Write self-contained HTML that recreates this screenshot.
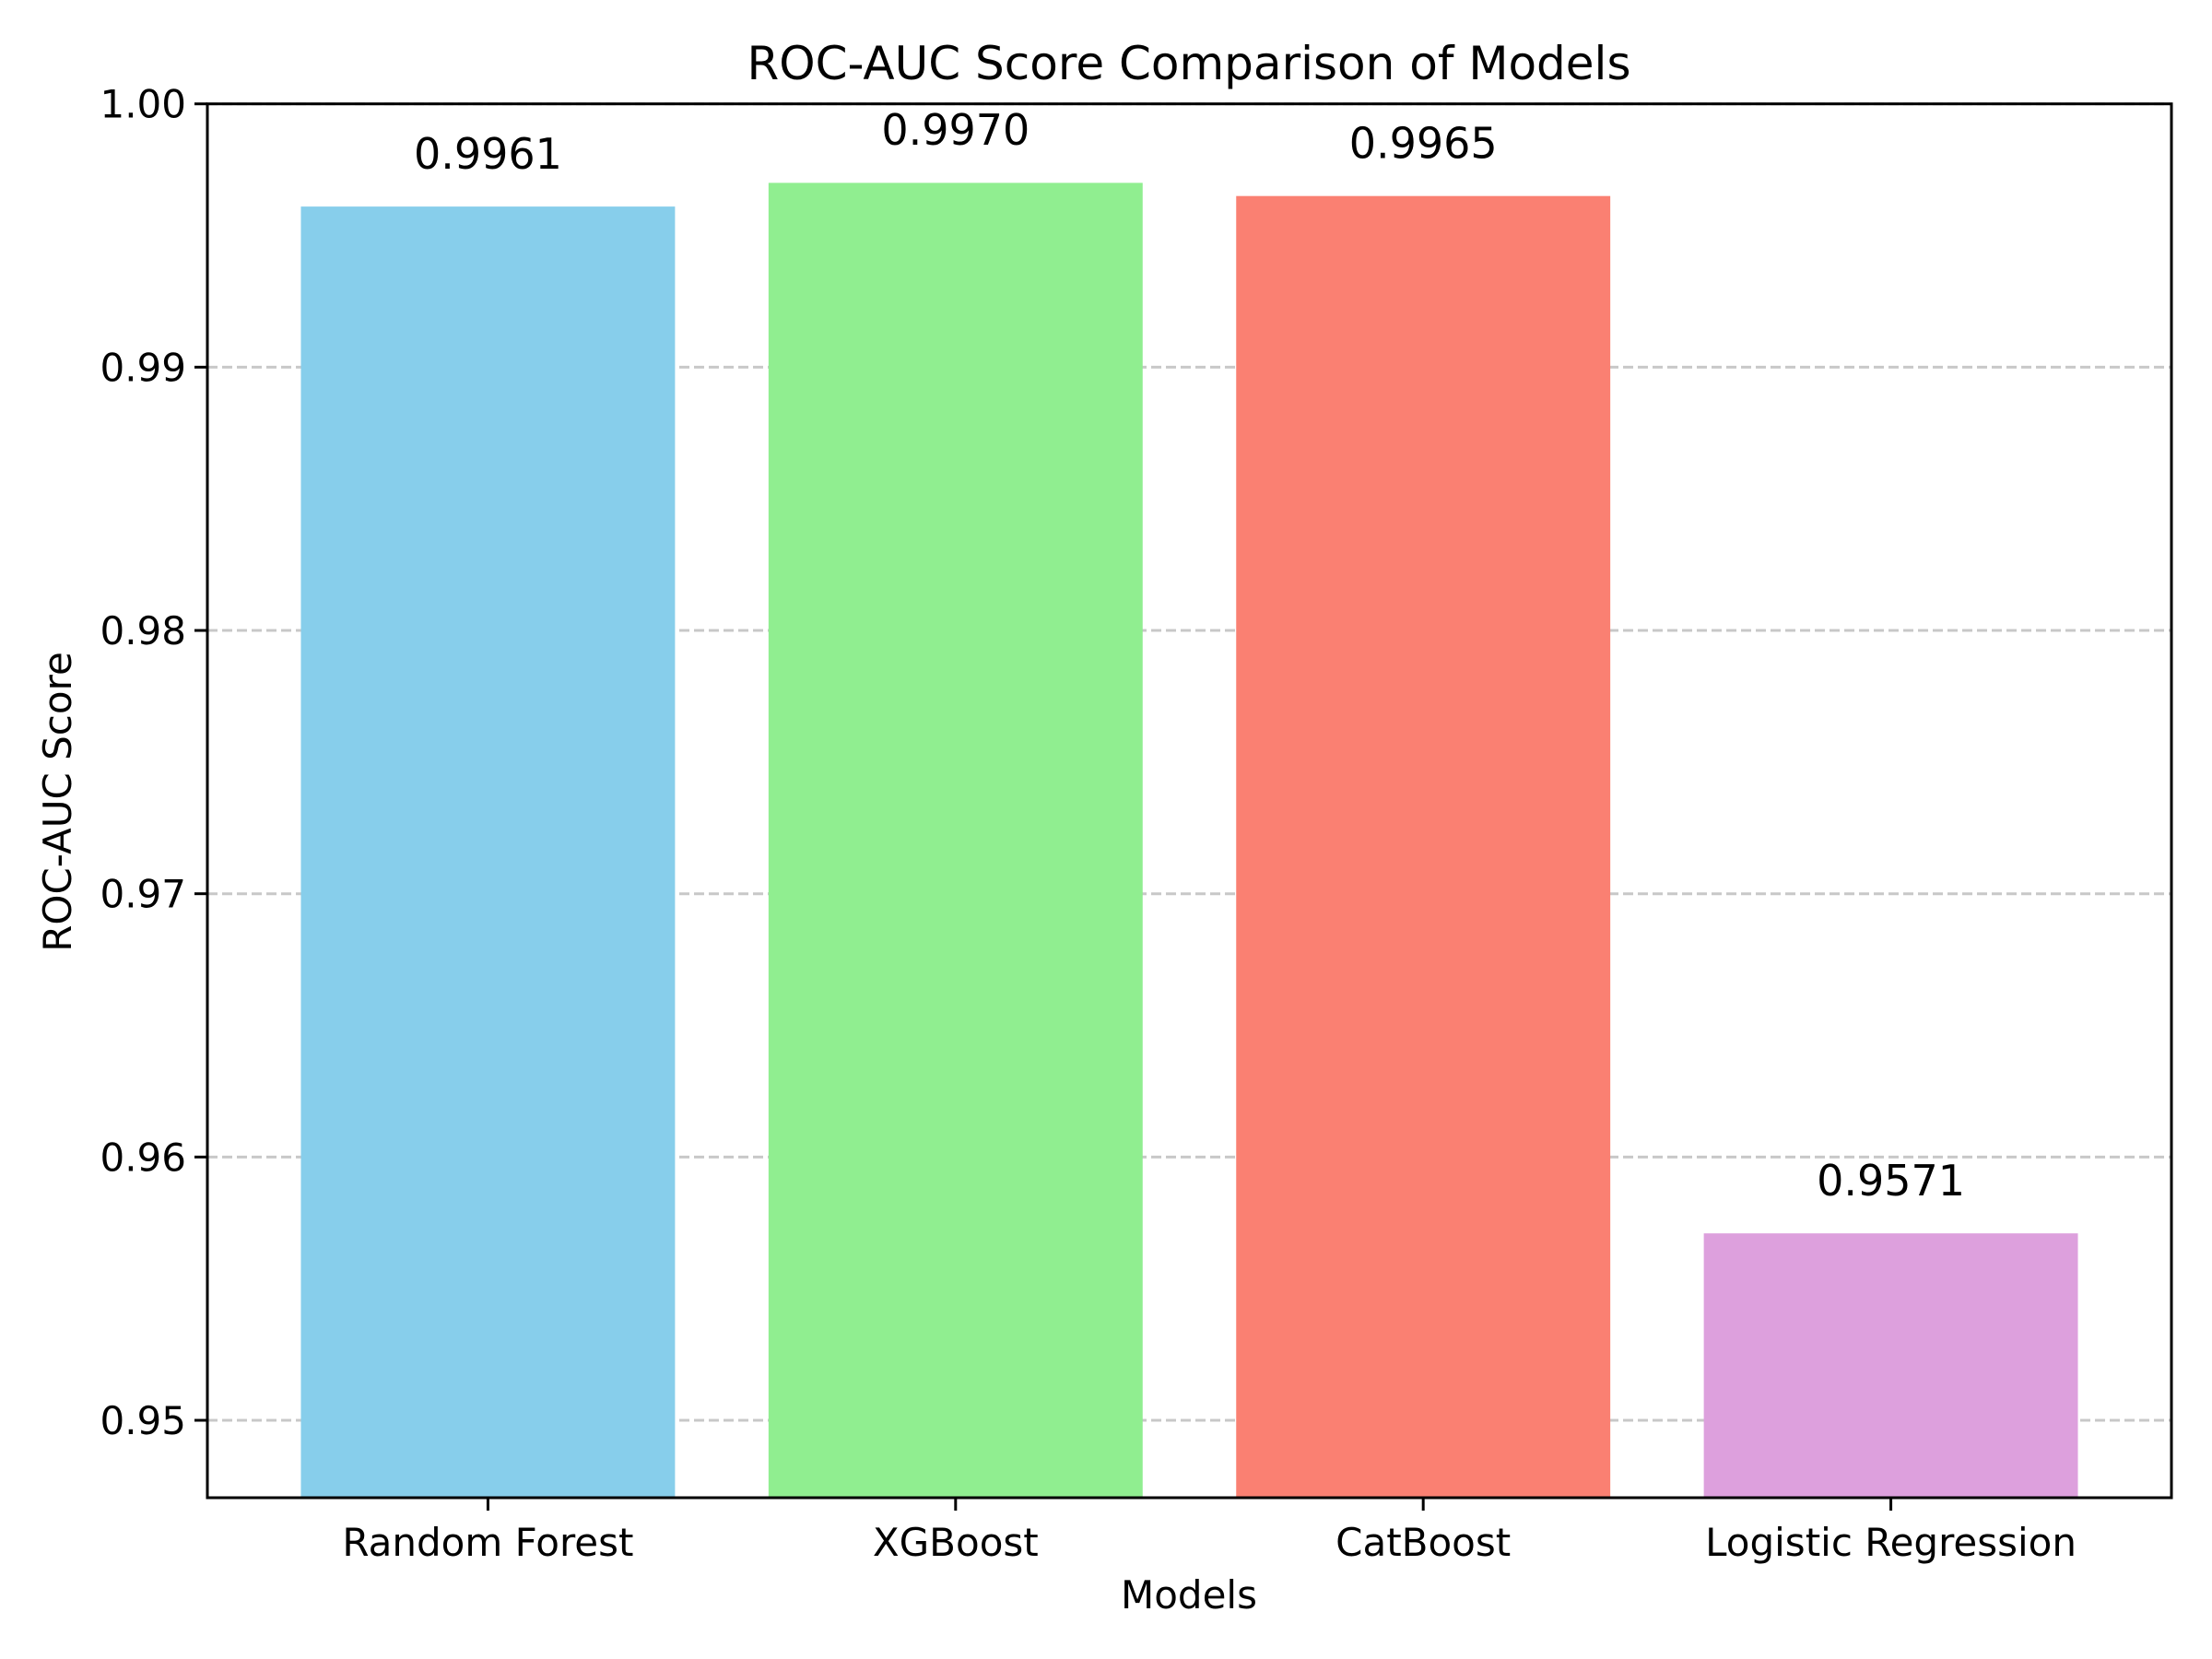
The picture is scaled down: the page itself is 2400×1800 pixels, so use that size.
<!DOCTYPE html>
<html><head><meta charset="utf-8"><style>
html,body{margin:0;padding:0;background:#fff;}
svg{display:block;font-family:"DejaVu Sans","Liberation Sans",sans-serif;}
</style></head><body>
<svg id="chart" width="2400" height="1800" viewBox="0 0 2400 1800" xmlns="http://www.w3.org/2000/svg">
<rect width="2400" height="1800" fill="#fff"/>
<g id="grid"></g>
<g id="bars"></g>
<g id="labels"></g>
<g id="axes"></g>
<text x="1290" y="86" font-size="50" text-anchor="middle">ROC-AUC Score Comparison of Models</text>
<text x="1290" y="1745" font-size="42" text-anchor="middle">Models</text>
<text transform="translate(77,870) rotate(-90)" font-size="42" text-anchor="middle">ROC-AUC Score</text>
</svg>
<script>
const categories = ["Random Forest", "XGBoost", "CatBoost", "Logistic Regression"];
const scores = [0.9961, 0.9970, 0.9965, 0.9571];
const valueLabels = ["0.9961", "0.9970", "0.9965", "0.9571"];
const colors = ["#87ceeb", "#90ee90", "#fa8072", "#dda0dd"];
const yTicks = [0.95, 0.96, 0.97, 0.98, 0.99, 1.00];
const yTickLabels = ["0.95", "0.96", "0.97", "0.98", "0.99", "1.00"];

const NS = "http://www.w3.org/2000/svg";
const L = 225, R = 2356, T = 112.7, B = 1625;
const yMin = 0.94706, yMax = 1.0;
const xMin = -0.6, xMax = categories.length - 0.4;
function xs(v){ return L + (v - xMin) / (xMax - xMin) * (R - L); }
function ys(v){ return B - (v - yMin) / (yMax - yMin) * (B - T); }
function mk(tag, attrs, parent, txt){
  const e = document.createElementNS(NS, tag);
  for (const k in attrs) e.setAttribute(k, attrs[k]);
  if (txt !== undefined) e.textContent = txt;
  parent.appendChild(e);
  return e;
}
const grid = document.getElementById('grid');
const bars = document.getElementById('bars');
const labels = document.getElementById('labels');
const axes = document.getElementById('axes');

yTicks.forEach((t, i) => {
  const y = ys(t);
  const g = mk('line', {x1: L, x2: R, y1: y, y2: y, stroke: '#b0b0b0', 'stroke-opacity': 0.7, 'stroke-width': 3, 'stroke-dasharray': '11,5'}, grid);
  
  
  const tk = mk('line', {x1: L - 14, x2: L, y1: y, y2: y, stroke: '#000', 'stroke-width': 3}, axes);
  
  
  const tl = mk('text', {x: L - 23, y: y + 15, 'font-size': 42, 'text-anchor': 'end'}, axes, yTickLabels[i]);
  
  
});

categories.forEach((c, i) => {
  const x0 = xs(i - 0.4), x1 = xs(i + 0.4);
  const top = ys(scores[i]);
  const b = mk('rect', {x: x0, y: top, width: x1 - x0, height: B - top, fill: colors[i]}, bars);
  
  
  const vl = mk('text', {x: xs(i), y: ys(scores[i] + 0.0005) - 27, 'font-size': 46, 'text-anchor': 'middle'}, labels, valueLabels[i]);
  
  
  const tk = mk('line', {x1: xs(i), x2: xs(i), y1: B, y2: B + 14, stroke: '#000', 'stroke-width': 3}, axes);
  
  
  const xl = mk('text', {x: xs(i), y: 1688, 'font-size': 42, 'text-anchor': 'middle'}, axes, c);
  
  
});

const frame = mk('rect', {x: L, y: T, width: R - L, height: B - T, fill: 'none', stroke: '#000', 'stroke-width': 3}, axes);


</script>
</body></html>
